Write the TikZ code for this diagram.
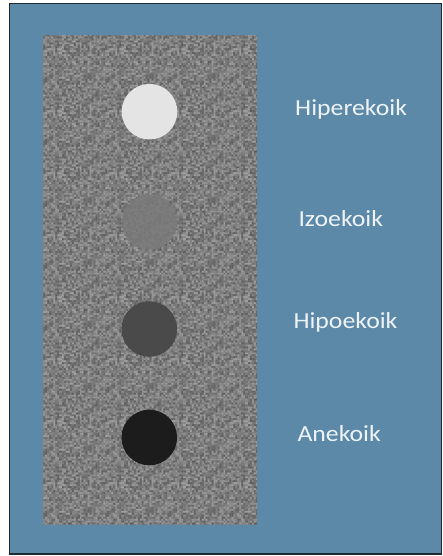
\documentclass[tikz,border=0pt]{standalone}
\usepackage{fontspec}
\setmainfont{Carlito}[FakeStretch=1.12]
\usetikzlibrary{patterns}
\definecolor{bgblue}{RGB}{92,137,167}
\definecolor{framecol}{RGB}{30,40,48}
\definecolor{noisebase}{RGB}{125,125,125}
\definecolor{hyper}{RGB}{228,228,228}
\definecolor{izo}{RGB}{122,122,122}
\definecolor{hypo}{RGB}{74,74,74}
\definecolor{anech}{RGB}{28,28,28}
\definecolor{labelcol}{RGB}{238,243,247}
\pgfmathsetseed{4711}
\pgfdeclarepatterninherentlycolored{speckle}{\pgfpointorigin}{\pgfqpoint{62pt}{62pt}}{\pgfqpoint{62pt}{62pt}}{%
  \foreach \i in {0,...,30}{%
    \foreach \j in {0,...,30}{%
      \pgfmathrandominteger{\g}{92}{162}%
      \definecolor{nc}{RGB}{\g,\g,\g}%
      \pgfsetfillcolor{nc}%
      \pgfpathrectangle{\pgfpoint{2*\i pt}{2*\j pt}}{\pgfqpoint{2pt}{2pt}}%
      \pgfusepath{fill}%
    }%
  }%
}
\tikzset{
  phantomdisc/.style={circle, inner sep=0pt, minimum size=55.6pt, draw=none},
  lbl/.style={anchor=base west, inner sep=0pt, text=labelcol, font=\fontsize{23}{27}\selectfont}
}
\begin{document}
\begin{tikzpicture}[x=1pt,y=-1pt]
\useasboundingbox (0,0) rectangle (443,556);
\fill[white] (0,0) rectangle (443,556);
\draw[draw=framecol, fill=bgblue, line width=1.5pt] (9.5,3.5) rectangle (441.5,554);
\fill[noisebase] (43,36) rectangle (257,524);
\fill[pattern=speckle] (43,36) rectangle (257,524);
\node[phantomdisc, fill=hyper] (c1) at (149.5,111.7) {};
\node[phantomdisc, fill=izo, opacity=0.85] (c2) at (149.5,222) {};
\node[phantomdisc, fill=hypo] (c3) at (149.3,329) {};
\node[phantomdisc, fill=anech] (c4) at (149.3,437.5) {};
\node[lbl] (t1) at (295,116) {Hiperekoik};
\node[lbl] (t2) at (298.3,226.7) {Izoekoik};
\node[lbl] (t3) at (293.3,328.3) {Hipoekoik};
\node[lbl] (t4) at (297.3,441.7) {Anekoik};
\end{tikzpicture}
\end{document}
